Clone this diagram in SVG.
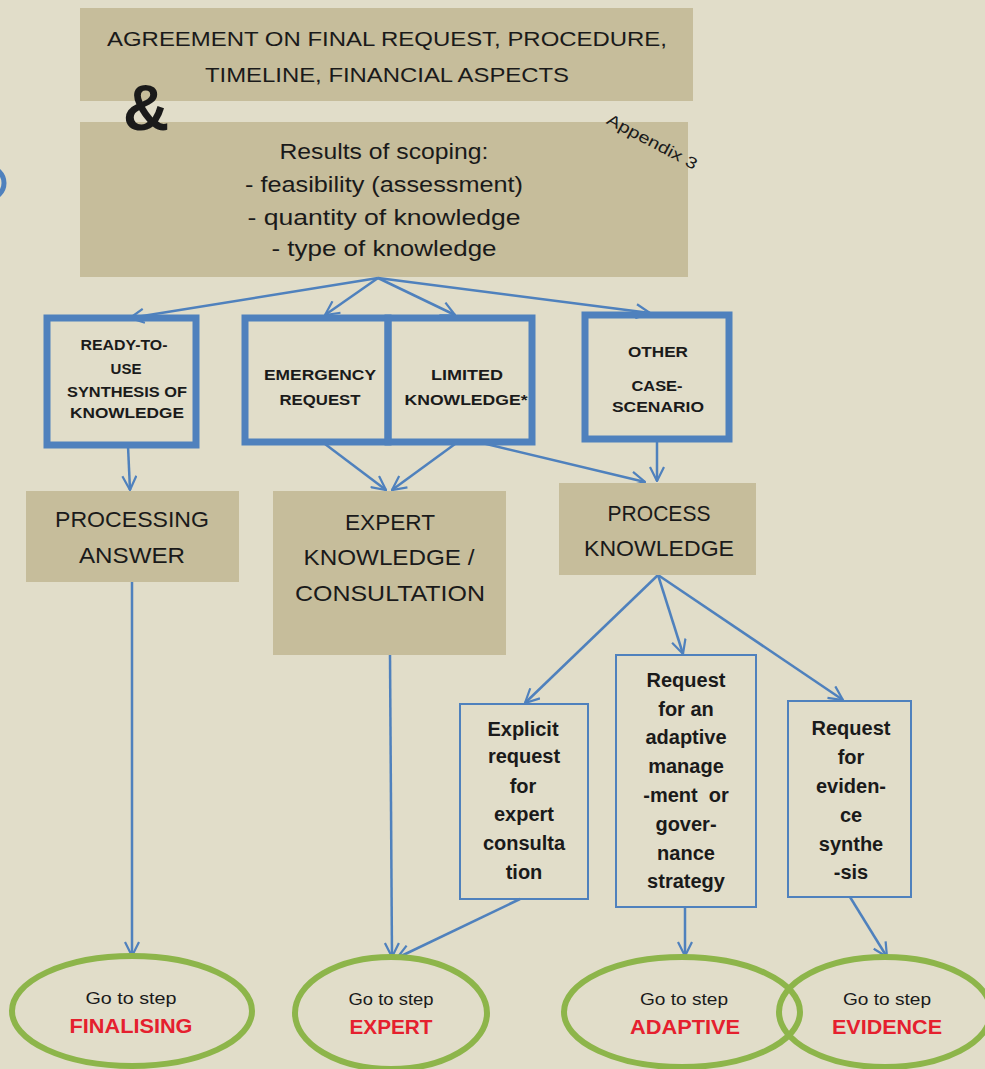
<svg xmlns="http://www.w3.org/2000/svg" width="985" height="1069" viewBox="0 0 985 1069">
<defs>
<marker id="ahl" viewBox="0 0 16 16" refX="15" refY="8" markerWidth="16" markerHeight="16" markerUnits="userSpaceOnUse" orient="auto">
<polyline points="1,1 15,8 1,15" fill="none" stroke="#4f81bd" stroke-width="2.2"/>
</marker>
</defs>
<style>
.bg{fill:#e1ddc9}
.tan{fill:#c6bd9b}
.thick{fill:none;stroke:#4f81bd;stroke-width:7}
.thin{fill:none;stroke:#4f81bd;stroke-width:2}
.ell{fill:none;stroke:#8db54a;stroke-width:6}
.t{font-family:"Liberation Sans",Arial,sans-serif;fill:#1a1a1a;text-anchor:middle}
.big{font-size:20px}
.box{font-size:22px}
.mid{font-size:22px}
.sm{font-size:15px;font-weight:bold}
.req{font-size:20px;font-weight:bold}
.go{font-size:17px}
.red{font-size:20px;font-weight:bold;fill:#e5202e}
.c{fill:none;stroke:#4f81bd;stroke-width:2.5;marker-end:url(#ahl)}
</style>
<rect class="bg" x="0" y="0" width="985" height="1069"/>
<circle cx="-12" cy="183" r="16" fill="none" stroke="#4f81bd" stroke-width="5"/>

<g id="agreement">
<rect class="tan" x="80" y="8" width="613" height="93"/>
<text class="t big" x="387" y="46" textLength="560" lengthAdjust="spacingAndGlyphs">AGREEMENT ON FINAL REQUEST, PROCEDURE,</text>
<text class="t big" x="387" y="82" textLength="364" lengthAdjust="spacingAndGlyphs">TIMELINE, FINANCIAL ASPECTS</text>
</g>
<g id="scoping">
<rect class="tan" x="80" y="122" width="608" height="155"/>
<text class="t mid" x="384" y="159" textLength="209" lengthAdjust="spacingAndGlyphs">Results of scoping:</text>
<text class="t mid" x="384" y="192" textLength="278" lengthAdjust="spacingAndGlyphs">- feasibility (assessment)</text>
<text class="t mid" x="384" y="225" textLength="273" lengthAdjust="spacingAndGlyphs">- quantity of knowledge</text>
<text class="t mid" x="384" y="256" textLength="225" lengthAdjust="spacingAndGlyphs">- type of knowledge</text>
<text class="t" x="652" y="147" font-size="16" textLength="100" lengthAdjust="spacingAndGlyphs" transform="rotate(28 652 142)">Appendix 3</text>
</g>
<text class="t" x="146" y="130" font-size="64" font-weight="bold" fill="#000">&amp;</text>

<g id="connectors">
<line class="c" x1="378" y1="278" x2="130" y2="318"/>
<line class="c" x1="378" y1="278" x2="325" y2="315"/>
<line class="c" x1="378" y1="278" x2="455" y2="315"/>
<line class="c" x1="378" y1="278" x2="650" y2="313"/>
<line class="c" x1="128" y1="446" x2="130" y2="490"/>
<line class="c" x1="325" y1="444" x2="386" y2="490"/>
<line class="c" x1="455" y1="444" x2="392" y2="490"/>
<line class="c" x1="478" y1="442" x2="645" y2="482"/>
<line class="c" x1="657" y1="441" x2="657" y2="481"/>
<line class="c" x1="658" y1="575" x2="525" y2="703"/>
<line class="c" x1="658" y1="575" x2="683" y2="654"/>
<line class="c" x1="658" y1="575" x2="843" y2="700"/>
<line class="c" x1="132" y1="582" x2="132" y2="956"/>
<line class="c" x1="390" y1="655" x2="392" y2="957"/>
<line class="c" x1="520" y1="899" x2="397" y2="958"/>
<line class="c" x1="685" y1="907" x2="685" y2="956"/>
<line class="c" x1="850" y1="897" x2="887" y2="957"/>
</g>

<g id="ready">
<rect class="thick" x="47" y="318" width="149" height="127"/>
<text class="t sm" x="124" y="350" textLength="87" lengthAdjust="spacingAndGlyphs">READY-TO-</text>
<text class="t sm" x="126" y="374">USE</text>
<text class="t sm" x="127" y="397" textLength="120" lengthAdjust="spacingAndGlyphs">SYNTHESIS OF</text>
<text class="t sm" x="127" y="418" textLength="114" lengthAdjust="spacingAndGlyphs">KNOWLEDGE</text>
</g>
<g id="emergency">
<rect class="thick" x="245" y="318" width="143" height="124"/>
<text class="t sm" x="320" y="380" textLength="112" lengthAdjust="spacingAndGlyphs">EMERGENCY</text>
<text class="t sm" x="320" y="405" textLength="81" lengthAdjust="spacingAndGlyphs">REQUEST</text>
</g>
<g id="limited">
<rect class="thick" x="388" y="318" width="144" height="124"/>
<text class="t sm" x="467" y="380" textLength="72" lengthAdjust="spacingAndGlyphs">LIMITED</text>
<text class="t sm" x="466" y="405" textLength="123" lengthAdjust="spacingAndGlyphs">KNOWLEDGE*</text>
</g>
<g id="other">
<rect class="thick" x="585" y="315" width="144" height="124"/>
<text class="t sm" x="658" y="357" textLength="60" lengthAdjust="spacingAndGlyphs">OTHER</text>
<text class="t sm" x="657" y="391" textLength="51" lengthAdjust="spacingAndGlyphs">CASE-</text>
<text class="t sm" x="658" y="412" textLength="92" lengthAdjust="spacingAndGlyphs">SCENARIO</text>
</g>

<g id="processing">
<rect class="tan" x="26" y="491" width="213" height="91"/>
<text class="t box" x="132" y="527" textLength="154" lengthAdjust="spacingAndGlyphs">PROCESSING</text>
<text class="t box" x="132" y="563" textLength="106" lengthAdjust="spacingAndGlyphs">ANSWER</text>
</g>
<g id="expert">
<rect class="tan" x="273" y="491" width="233" height="164"/>
<text class="t box" x="390" y="530" textLength="90" lengthAdjust="spacingAndGlyphs">EXPERT</text>
<text class="t box" x="389" y="565" textLength="171" lengthAdjust="spacingAndGlyphs">KNOWLEDGE /</text>
<text class="t box" x="390" y="601" textLength="190" lengthAdjust="spacingAndGlyphs">CONSULTATION</text>
</g>
<g id="process">
<rect class="tan" x="559" y="483" width="197" height="92"/>
<text class="t box" x="659" y="521" textLength="103" lengthAdjust="spacingAndGlyphs">PROCESS</text>
<text class="t box" x="659" y="556" textLength="150" lengthAdjust="spacingAndGlyphs">KNOWLEDGE</text>
</g>

<g id="explicit">
<rect class="thin" x="460" y="704" width="128" height="195"/>
<text class="t req" x="523" y="736">Explicit</text>
<text class="t req" x="524" y="763">request</text>
<text class="t req" x="523" y="793">for</text>
<text class="t req" x="524" y="821">expert</text>
<text class="t req" x="524" y="850">consulta</text>
<text class="t req" x="524" y="879">tion</text>
</g>
<g id="adaptive">
<rect class="thin" x="616" y="655" width="140" height="252"/>
<text class="t req" x="686" y="687">Request</text>
<text class="t req" x="686" y="716">for an</text>
<text class="t req" x="686" y="744">adaptive</text>
<text class="t req" x="686" y="773">manage</text>
<text class="t req" x="686" y="802" xml:space="preserve">-ment  or</text>
<text class="t req" x="686" y="831">gover-</text>
<text class="t req" x="686" y="860">nance</text>
<text class="t req" x="686" y="888">strategy</text>
</g>
<g id="evidence">
<rect class="thin" x="788" y="701" width="123" height="196"/>
<text class="t req" x="851" y="735">Request</text>
<text class="t req" x="851" y="764">for</text>
<text class="t req" x="851" y="793">eviden-</text>
<text class="t req" x="851" y="822">ce</text>
<text class="t req" x="851" y="851">synthe</text>
<text class="t req" x="851" y="879">-sis</text>
</g>

<g id="go-finalising">
<ellipse class="ell" cx="132" cy="1011" rx="120" ry="55"/>
<text class="t go" x="131" y="1004" textLength="91" lengthAdjust="spacingAndGlyphs">Go to step</text>
<text class="t red" x="131" y="1033" textLength="123" lengthAdjust="spacingAndGlyphs">FINALISING</text>
</g>
<g id="go-expert">
<ellipse class="ell" cx="391" cy="1013" rx="96" ry="56"/>
<text class="t go" x="391" y="1005" textLength="85" lengthAdjust="spacingAndGlyphs">Go to step</text>
<text class="t red" x="391" y="1034" textLength="83" lengthAdjust="spacingAndGlyphs">EXPERT</text>
</g>
<g id="go-adaptive">
<ellipse class="ell" cx="682" cy="1012" rx="118" ry="55"/>
<text class="t go" x="684" y="1005" textLength="88" lengthAdjust="spacingAndGlyphs">Go to step</text>
<text class="t red" x="685" y="1034" textLength="110" lengthAdjust="spacingAndGlyphs">ADAPTIVE</text>
</g>
<g id="go-evidence">
<ellipse class="ell" cx="885" cy="1012" rx="106" ry="55"/>
<text class="t go" x="887" y="1005" textLength="88" lengthAdjust="spacingAndGlyphs">Go to step</text>
<text class="t red" x="887" y="1034" textLength="110" lengthAdjust="spacingAndGlyphs">EVIDENCE</text>
</g>
</svg>
